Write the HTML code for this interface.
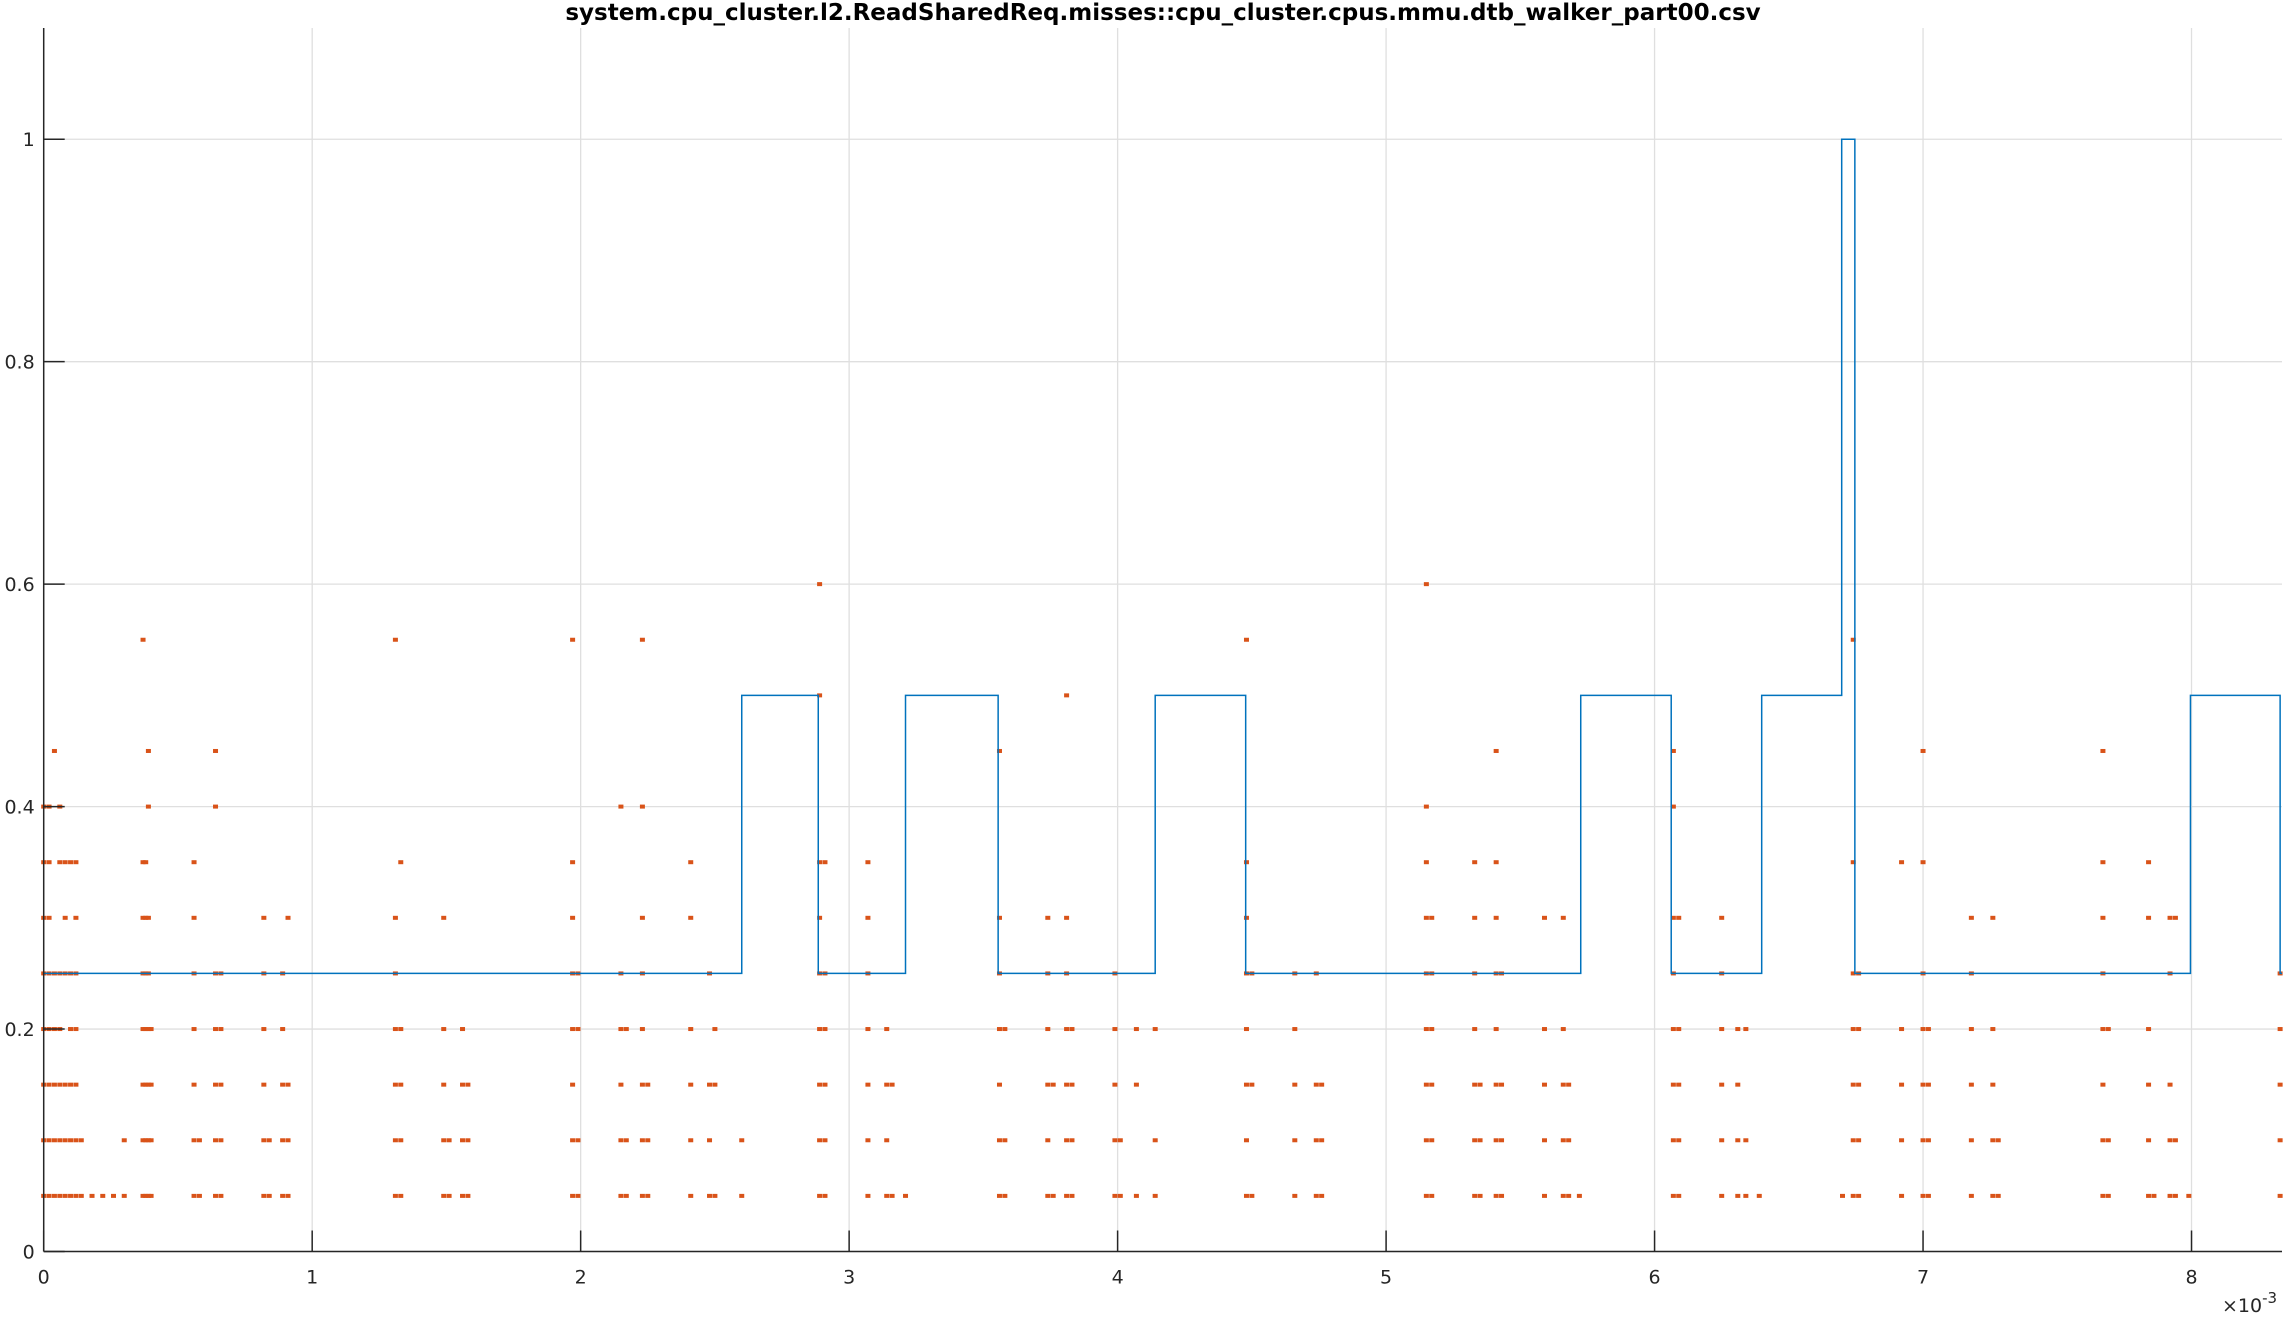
<!DOCTYPE html>
<html><head><meta charset="utf-8"><style>
html,body{margin:0;padding:0;background:#fff;}
svg{display:block;font-family:"DejaVu Sans","Liberation Sans",sans-serif;}
</style></head><body>
<svg id="chart" width="2286" height="1317" viewBox="0 0 2286 1317">
<text x="1163" y="20" text-anchor="middle" font-size="23" font-weight="bold" fill="#000">system.cpu_cluster.l2.ReadSharedReq.misses::cpu_cluster.cpus.mmu.dtb_walker_part00.csv</text>
<g id="grid"></g><g id="series"></g><g id="axes"></g>
</svg>
<script>
const xTicks=[0,1,2,3,4,5,6,7,8];
const yTicks=[0,0.2,0.4,0.6,0.8,1];
const yTickLabels=["0","0.2","0.4","0.6","0.8","1"];
const stepX=[0,2.60,2.885,3.21,3.555,4.14,4.477,5.725,6.062,6.399,6.697,6.746,7.996,8.33,8.337];
const stepY=[0.25,0.5,0.25,0.5,0.25,0.5,0.25,0.5,0.25,0.5,1.0,0.25,0.5,0.25];
const clusterX=[0,0.02,0.04,0.06,0.08,0.10,0.12,0.14,0.18,0.22,0.26,0.3,0.37,0.38,0.39,0.40,0.56,0.58,0.64,0.66,0.82,0.84,0.89,0.91,1.31,1.33,1.49,1.51,1.56,1.58,1.97,1.99,2.15,2.17,2.23,2.25,2.41,2.48,2.50,2.60,2.89,2.91,3.07,3.14,3.16,3.21,3.56,3.58,3.74,3.76,3.81,3.83,3.99,4.01,4.07,4.14,4.48,4.50,4.66,4.74,4.76,5.15,5.17,5.33,5.35,5.41,5.43,5.59,5.66,5.68,5.72,6.07,6.09,6.25,6.31,6.34,6.39,6.70,6.74,6.76,6.92,7.00,7.02,7.18,7.26,7.28,7.67,7.69,7.84,7.86,7.92,7.94,7.99,8.33];
const clusterLevels=[
[.05,.1,.15,.2,.25,.3,.35,.4],[.05,.1,.15,.2,.25,.3,.35,.4],[.05,.1,.15,.2,.25,.45],[.05,.1,.15,.2,.25,.35,.4],[.05,.1,.15,.25,.3,.35],[.05,.1,.15,.2,.25,.35],[.05,.1,.15,.2,.25,.3,.35],[.05,.1],[.05],[.05],[.05],[.05,.1],
[.05,.1,.15,.2,.25,.3,.35,.55],[.05,.1,.15,.2,.25,.3,.35],[.05,.1,.15,.2,.25,.3,.45,.4],[.05,.1,.15,.2],[.05,.1,.15,.2,.25,.3,.35],[.05,.1],[.05,.1,.15,.2,.25,.45,.4],[.05,.1,.15,.2,.25],[.05,.1,.15,.2,.25,.3],[.05,.1],[.05,.1,.15,.2,.25],[.05,.1,.15,.3],
[.05,.1,.15,.2,.25,.3,.55],[.05,.1,.15,.2,.35],[.05,.1,.15,.2,.3],[.05,.1],[.05,.1,.15,.2],[.05,.1,.15],[.05,.1,.15,.2,.25,.3,.35,.55],[.05,.1,.2,.25],[.05,.1,.15,.2,.25,.4],[.05,.1,.2],[.05,.1,.15,.2,.25,.3,.4,.55],[.05,.1,.15],[.05,.1,.15,.2,.3,.35],[.05,.1,.15,.25],[.05,.2,.15],[.05,.1],
[.05,.1,.15,.2,.25,.3,.35,.5,.6],[.05,.1,.15,.2,.25,.35],[.05,.1,.15,.2,.25,.3,.35],[.05,.1,.15,.2],[.05,.15],[.05],[.05,.1,.15,.2,.25,.3,.45],[.05,.1,.2],[.05,.1,.15,.2,.25,.3],[.05,.15],[.05,.1,.15,.2,.25,.3,.5],[.05,.1,.15,.2],[.05,.1,.15,.2,.25],[.05,.1],[.05,.15,.2],[.05,.1,.2],
[.05,.1,.15,.2,.25,.3,.35,.55],[.05,.25,.15],[.05,.1,.15,.2,.25],[.05,.1,.15,.25],[.05,.1,.15],[.05,.1,.15,.2,.25,.3,.35,.4,.6],[.05,.1,.15,.2,.25,.3],[.05,.1,.15,.2,.25,.3,.35],[.05,.1,.15],[.05,.1,.15,.2,.25,.3,.35,.45],[.05,.1,.15,.25],[.05,.1,.15,.2,.3],[.05,.1,.15,.2,.3],[.05,.1,.15],[.05],
[.05,.1,.15,.2,.25,.3,.4,.45],[.05,.1,.15,.2,.3],[.05,.1,.15,.2,.25,.3],[.05,.1,.15,.2],[.05,.1,.2],[.05],[.05],[.05,.1,.15,.2,.25,.35,.55],[.05,.1,.15,.2,.25],[.05,.1,.15,.2,.35],[.05,.1,.15,.2,.25,.35,.45],[.05,.1,.15,.2],[.05,.1,.15,.2,.25,.3],[.05,.1,.15,.2,.3],[.05,.1],
[.05,.1,.15,.2,.25,.3,.35,.45],[.05,.1,.2],[.05,.1,.15,.2,.3,.35],[.05],[.05,.1,.15,.25,.3],[.05,.1,.3],[.05],[.05,.1,.15,.2,.25]];
const L=43.7,R=2282,T=28,B=1251.5,XMAX=8.337,YMAX=1.1;
const sx=v=>L+v/XMAX*(R-L), sy=v=>B-v/YMAX*(B-T);
const NS="http://www.w3.org/2000/svg";
function mk(tag,attrs,parent){const e=document.createElementNS(NS,tag);for(const k in attrs)e.setAttribute(k,attrs[k]);parent.appendChild(e);return e;}
const grid=document.getElementById('grid'),ser=document.getElementById('series'),ax=document.getElementById('axes');
xTicks.forEach(t=>{const g=mk('line',{x1:sx(t),x2:sx(t),y1:T,y2:B,stroke:'#dfdfdf','stroke-width':1.3},grid);

});
yTicks.forEach(t=>{const g=mk('line',{x1:L,x2:R,y1:sy(t),y2:sy(t),stroke:'#dfdfdf','stroke-width':1.3},grid);

});
clusterX.forEach((x,i)=>{clusterLevels[i].forEach(y=>{const c=mk('rect',{x:sx(x)-2.5,y:sy(y)-2,width:5,height:4,fill:'#d95319'},ser);

});});
let d='';
stepY.forEach((y,i)=>{const x0=sx(stepX[i]),x1=sx(stepX[i+1]),yy=sy(y);d+=(i?'L':'M')+x0+' '+yy+' L'+x1+' '+yy+' ';});
const p=mk('path',{d:d,fill:'none',stroke:'#0072bd','stroke-width':1.5},ser);


const xa=mk('line',{x1:L,x2:R,y1:B,y2:B,stroke:'#262626','stroke-width':1.5},ax);


const ya=mk('line',{x1:L,x2:L,y1:T,y2:B,stroke:'#262626','stroke-width':1.5},ax);


xTicks.forEach(t=>{const tk=mk('line',{x1:sx(t),x2:sx(t),y1:B,y2:B-21,stroke:'#262626','stroke-width':1.5},ax);


const lb=mk('text',{x:sx(t),y:B+32,'text-anchor':'middle','font-size':19,fill:'#262626'},ax);lb.textContent=String(t);

});
yTicks.forEach((t,i)=>{const tk=mk('line',{x1:L,x2:L+21,y1:sy(t),y2:sy(t),stroke:'#262626','stroke-width':1.5},ax);


const lb=mk('text',{x:L-9,y:sy(t)+7,'text-anchor':'end','font-size':19,fill:'#262626'},ax);lb.textContent=yTickLabels[i];

});
const ex=mk('text',{x:2222,y:1312,'font-size':19,fill:'#262626'},ax);
ex.innerHTML='×10<tspan dy="-9" font-size="15">-3</tspan>';


</script>
</body></html>
